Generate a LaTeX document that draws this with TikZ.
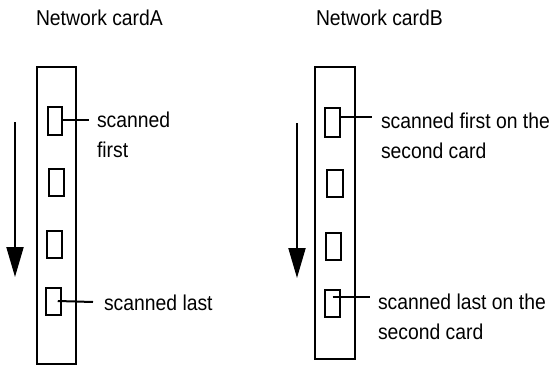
\documentclass[tikz,border=0pt]{standalone}
\usepackage{fontspec}
\setmainfont{Liberation Sans}[FakeStretch=0.9]
\usetikzlibrary{arrows.meta,calc}
\begin{document}
\begin{tikzpicture}[x=1pt,y=-1pt,line width=2pt,
  lbl/.style={inner sep=0pt,align=left,font=\fontsize{21.5}{30}\selectfont},
  card/.style={draw,inner sep=0pt,minimum width=39pt},
  slot/.style={draw,inner sep=0pt,minimum width=15pt,minimum height=27pt},
  scanarrow/.style={-{Triangle[width=17pt,length=30pt]}}]
\useasboundingbox (0,0) rectangle (550,367);
% titles
\node[lbl,anchor=base west] (tA) at (35,25) {Network cardA};
\node[lbl,anchor=base west] (tB) at (315,25) {Network cardB};
% cards
\node[card,minimum height=297pt] (cardA) at (56,215) {};
\node[card,minimum width=40pt,minimum height=292pt] (cardB) at (334.5,212.5) {};
% slots card A
\node[slot,minimum width=14pt,minimum height=28pt] (La) at (55,121) {};
\node[slot] (Lb) at (56.5,182.5) {};
\node[slot] (Lc) at (54.5,244.5) {};
\node[slot,minimum height=27pt] (Ld) at (53.5,301) {};
% slots card B
\node[slot,minimum height=29pt] (Ra) at (332.5,122.5) {};
\node[slot,minimum width=16pt] (Rb) at (335,183.5) {};
\node[slot] (Rc) at (333.5,246.5) {};
\node[slot] (Rd) at (332.5,303.5) {};
% connector ends
\coordinate (eLa) at (89,120);
\coordinate (eLd) at (93,302);
\coordinate (eRa) at (372,117);
\coordinate (eRd) at (370,297);
\draw (La.east |- eLa) -- (eLa);
\draw ($(Ld.west)!0.75!(Ld.east)$ |- eLd) -- (eLd);
\draw (Ra.east |- eRa) -- (eRa);
\draw (Rd.center |- eRd) -- (eRd);
% labels
\node[lbl,anchor=north west] (lLa) at (96,111) {scanned\\first};
\node[lbl,anchor=base west] (lLd) at (103,310) {scanned last};
\node[lbl,anchor=north west] (lRa) at (380,111.5) {scanned first on the\\second card};
\node[lbl,anchor=north west] (lRd) at (377,292.5) {scanned last on the\\second card};
% scan direction arrows
\coordinate (aA1) at (15,122);
\coordinate (aA2) at (15,277);
\coordinate (aB1) at (297,123);
\coordinate (aB2) at (297,278);
\draw[scanarrow] (aA1) -- (aA2);
\draw[scanarrow] (aB1) -- (aB2);
\end{tikzpicture}
\end{document}
